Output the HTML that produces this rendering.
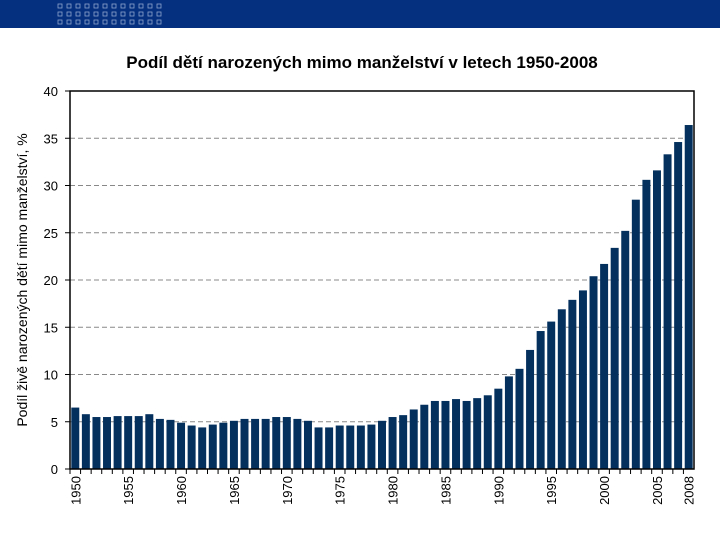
<!DOCTYPE html>
<html><head><meta charset="utf-8"><style>
body{margin:0;width:720px;height:540px;background:#fff;overflow:hidden;font-family:"Liberation Sans",sans-serif}
</style></head><body>
<svg width="720" height="540" xmlns="http://www.w3.org/2000/svg">
<rect x="0" y="0" width="720" height="28" fill="#04307f"/>
<g id="dots"></g>
<text x="362" y="68" text-anchor="middle" font-size="17" font-weight="bold" fill="#000">Podíl dětí narozených mimo manželství v letech 1950-2008</text>
<text transform="translate(27,280) rotate(-90)" text-anchor="middle" font-size="14" fill="#000">Podíl živě narozených dětí mimo manželství, %</text>
<g id="grid"></g><g id="bars"></g><g id="axes"></g>
</svg>
<script>
const years=[];for(let y=1950;y<=2008;y++)years.push(y);
const values=[6.5,5.8,5.5,5.5,5.6,5.6,5.6,5.8,5.3,5.2,4.9,4.6,4.4,4.7,4.9,5.1,5.3,5.3,5.3,5.5,5.5,5.3,5.1,4.4,4.4,4.6,4.6,4.6,4.7,5.1,
5.5,5.7,6.3,6.8,7.2,7.2,7.4,7.2,7.5,7.8,8.5,9.8,10.6,12.6,14.6,15.6,16.9,17.9,18.9,20.4,21.7,23.4,25.2,28.5,30.6,31.6,33.3,34.6,36.4];
const yTicks=[0,5,10,15,20,25,30,35,40];
const xLabelYears=[1950,1955,1960,1965,1970,1975,1980,1985,1990,1995,2000,2005,2008];
const NS="http://www.w3.org/2000/svg";
const L=70,R=694,T=91,B=469,yMax=40;
const slot=(R-L)/years.length;
const yS=v=>B-(v/yMax)*(B-T);
const xS=i=>L+i*slot;
function mk(tag,at,parent){const e=document.createElementNS(NS,tag);for(const k in at)e.setAttribute(k,at[k]);document.getElementById(parent).appendChild(e);return e;}
// header dots
for(let r=0;r<3;r++)for(let c=0;c<12;c++){const d=mk('rect',{x:58+c*9,y:4+r*8,width:4,height:4,fill:'none',stroke:'#8fa3cc','stroke-width':0.8},'dots');

}
yTicks.forEach(t=>{const y=yS(t);
if(t>0&&t<40){const g=mk('line',{x1:L,x2:R,y1:y,y2:y,stroke:'#888','stroke-dasharray':'5,3','stroke-width':1},'grid');

}
const tk=mk('line',{x1:L-5,x2:L,y1:y,y2:y,stroke:'#000'},'axes');


const tx=mk('text',{x:L-12,y:y+5,'text-anchor':'end','font-size':13},'axes');tx.textContent=t;

});
values.forEach((v,i)=>{const b=mk('rect',{x:xS(i)+1.3,y:yS(v),width:slot-2.6,height:B-yS(v),fill:'#04305e'},'bars');

});
years.forEach((yr,i)=>{const tk=mk('line',{x1:xS(i),x2:xS(i),y1:B,y2:B+5,stroke:'#000'},'axes');


if(xLabelYears.includes(yr)){const cx=xS(i)+slot/2;const t=mk('text',{transform:`translate(${cx+5},476) rotate(-90)`,'text-anchor':'end','font-size':13},'axes');t.textContent=yr;

}});
const ax=mk('path',{d:`M${L} ${T}H${R}V${B}H${L}Z`,fill:'none',stroke:'#000','stroke-width':1.5},'axes');


</script>
</body></html>
